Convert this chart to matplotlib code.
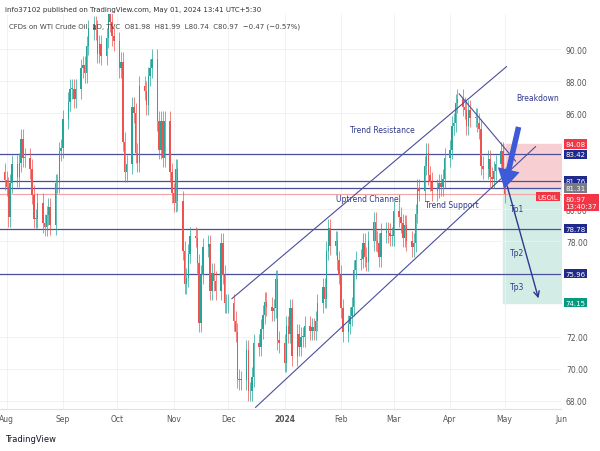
import matplotlib
matplotlib.use("Agg")
import matplotlib.pyplot as plt
import matplotlib.dates as mdates
import pandas as pd
import numpy as np

closes = [81.8,81.4,79.5,81.6,82.8,82.0,82.9,84.4,83.2,83.2,82.5,80.9,79.4,79.4,80.4,79.1,78.9,79.6,80.1,79.0,81.6,81.6,83.6,83.8,
          85.6,86.7,87.5,87.5,86.9,87.5,88.8,89.0,88.5,90.2,91.2,91.5,91.2,89.7,90.3,89.6,90.7,93.7,91.7,90.8,90.5,
          88.8,89.2,84.2,82.3,82.8,86.4,86.0,83.5,82.9,87.7,87.4,86.5,88.3,88.8,89.4,85.5,83.7,85.5,83.2,85.5,82.3,81.0,
          80.4,82.5,80.5,77.4,75.3,75.7,77.2,78.3,78.2,76.6,72.9,75.9,77.6,77.8,74.9,76.0,75.5,74.9,77.9,75.9,74.1,74.1,
          74.1,73.0,72.3,69.4,69.3,69.3,71.2,68.6,68.6,69.5,71.6,71.4,72.5,73.4,74.2,73.9,73.6,73.8,75.6,71.8,71.6,
          70.4,72.7,72.2,73.8,70.8,72.2,71.4,72.0,72.0,72.7,72.4,72.6,72.4,73.0,74.1,75.1,74.4,77.4,78.8,77.7,78.0,76.8,75.9,
          73.8,72.3,72.8,73.3,73.9,76.2,76.8,76.9,77.9,77.0,76.7,78.0,79.2,78.0,77.9,77.0,78.5,78.6,78.5,78.3,78.3,
          79.9,79.5,79.1,78.2,79.0,78.0,77.6,77.9,79.7,81.3,81.1,82.7,83.5,82.1,81.7,81.1,81.3,81.6,81.4,81.9,83.2,
          83.7,85.2,85.4,86.6,86.9,86.4,86.2,85.2,86.2,85.7,85.7,85.4,85.0,82.7,82.5,83.1,82.0,81.9,82.4,82.8,83.6,82.0,
          80.97]
opens = [82.3] + closes[:-1]
dates = pd.bdate_range("2023-07-31", periods=len(closes))

hlines = [83.42, 81.76, 81.31, 78.78, 75.96]
hline_labels = ["83.42", "81.76", "81.31", "78.78", "75.96"]
stop_price, entry_price, target_price = 84.08, 81.25, 74.15
last_price = 80.97
yticks = [68, 70, 72, 78, 80, 86, 88, 90]

fig = plt.figure(figsize=(6, 4.52), dpi=100)
ax = fig.add_axes([0.0, 0.093, 0.935, 0.874])
D = mdates.date2num
def T(s): return D(pd.Timestamp(s))
ax.set_xlim(T("2023-07-28 10:00"), T("2024-06-01"))
ax.set_ylim(67.5, 92.2)

green, red = "#26a69a", "#ef5350"
x = D(dates)
for xi, o, c in zip(x, opens, closes):
    col = green if c >= o else red
    ax.vlines(xi, min(o, c) - 0.6, max(o, c) + 0.6, color=col, lw=0.5, zorder=3)
    ax.bar(xi, max(abs(c - o), 0.05), bottom=min(o, c), width=0.8, color=col, zorder=3)

navy = "#4a4f9c"
for h in hlines:
    ax.axhline(h, color=navy, lw=0.9, zorder=2)
ax.axhline(last_price, color="#f4a3a3", lw=0.8, zorder=2)

d0, d1 = T("2024-04-30"), T("2024-06-01")
ax.fill_between([d0, d1], entry_price, stop_price, color="#f7cfd2", zorder=1)
ax.fill_between([d0, d1], target_price, entry_price, color="#d3ece6", zorder=1)

ax.plot([T("2023-12-03"), T("2024-05-02")], [74.4, 88.9], color=navy, lw=0.8, zorder=4)
ax.plot([T("2023-12-16"), T("2024-05-18")], [67.6, 83.9], color=navy, lw=0.8, zorder=4)
ax.plot([T("2024-04-06"), T("2024-05-07")], [87.2, 83.0], color=navy, lw=0.8, zorder=4)
ax.annotate("", xy=(T("2024-04-30 12:00"), 81.1), xytext=(T("2024-05-09"), 85.3),
            arrowprops=dict(arrowstyle="simple,head_width=1.6,head_length=1.4,tail_width=0.4",
                            color="#3d5bd9", lw=0, mutation_scale=10), zorder=5)
ax.annotate("", xy=(T("2024-05-20"), 74.25), xytext=(T("2024-05-02"), 81.6),
            arrowprops=dict(arrowstyle="->", color="#2a3a8f", lw=1.0), zorder=5)

tc = "#2f3a8c"
ax.text(T("2024-02-24"), 84.8, "Trend Resistance", fontsize=5.5, color=tc, ha="center")
ax.text(T("2024-02-16"), 80.5, "Uptrend Channel", fontsize=5.5, color=tc, ha="center")
ax.text(T("2024-04-02"), 80.1, "Trend Support", fontsize=5.5, color=tc, ha="center")
ax.text(T("2024-05-19"), 86.8, "Breakdown", fontsize=5.5, color=tc, ha="center")
for lbl, p in [("Tp1", 79.9), ("Tp2", 77.1), ("Tp3", 75.0)]:
    ax.text(T("2024-05-04"), p, lbl, fontsize=5.5, color=tc)

ticks = [T(f"2023-{m:02d}-01") for m in range(8, 13)] + [T(f"2024-{m:02d}-01") for m in range(1, 7)]
labels = ["Aug", "Sep", "Oct", "Nov", "Dec", "2024", "Feb", "Mar", "Apr", "May", "Jun"]
ax.set_xticks(ticks)
ax.set_xticklabels(labels)
for t in ax.get_xticklabels():
    if t.get_text() == "2024":
        t.set_fontweight("bold")
ax.set_yticks(yticks)
ax.set_yticklabels([f"{v:.2f}" for v in yticks])
ax.yaxis.tick_right()
ax.tick_params(labelsize=5.5, colors="#555555", length=0)
ax.grid(True, color="#f0f0f0", lw=0.6, zorder=0)
for s in ax.spines.values():
    s.set_visible(False)
ax.spines["bottom"].set_visible(True); ax.spines["bottom"].set_color("#e0e0e0")

def tag(p, txt, col, txtcol="white"):
    ax.text(1.008, p, txt, transform=ax.get_yaxis_transform(), fontsize=5, color=txtcol,
            va="center", ha="left", bbox=dict(boxstyle="square,pad=0.25", fc=col, ec="none"))
tag(stop_price, "84.08", "#f23645")
for h, l in zip(hlines, hline_labels):
    tag(h, l, "#787b86" if l == "81.31" else "#1f2a8a")
tag(last_price - 0.55, "80.97\n13:40:37", "#f23645")
tag(target_price, "74.15", "#089981")
ax.text(0.995, last_price - 0.2, "USOIL", transform=ax.get_yaxis_transform(), fontsize=5, color="white",
        va="center", ha="right", bbox=dict(boxstyle="square,pad=0.25", fc="#f23645", ec="none"))

fig.text(0.008, 0.978, "info37102 published on TradingView.com, May 01, 2024 13:41 UTC+5:30", fontsize=5, color="#333333", va="center")
fig.text(0.015, 0.94, "CFDs on WTI Crude Oil, 1D, TVC  O81.98  H81.99  L80.74  C80.97  −0.47 (−0.57%)", fontsize=5, color="#444444", va="center")
fig.text(0.008, 0.027, "TradingView", fontsize=6, color="#131722", va="center")
fig.savefig("out.png", dpi=100)
